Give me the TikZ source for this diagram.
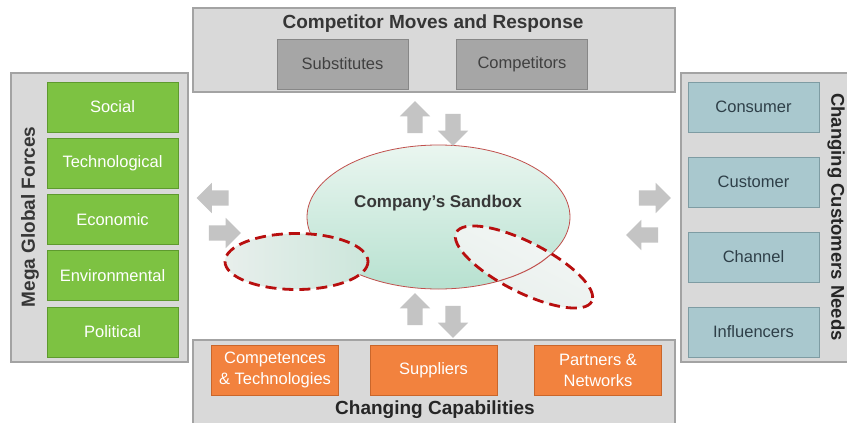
\documentclass[tikz,border=0pt]{standalone}
\usepackage{fontspec}
\setmainfont{Liberation Sans}
\usetikzlibrary{shapes.arrows}

\definecolor{panelfill}{HTML}{D9D9D9}
\definecolor{panelline}{HTML}{A3A3A3}
\definecolor{grayfill}{HTML}{A6A6A6}
\definecolor{grayline}{HTML}{878787}
\definecolor{greenfill}{HTML}{7DC242}
\definecolor{greenline}{HTML}{5E9A2E}
\definecolor{bluefill}{HTML}{A9C8CE}
\definecolor{blueline}{HTML}{7E9CA3}
\definecolor{bluetext}{HTML}{2E3F48}
\definecolor{orangefill}{HTML}{F2823E}
\definecolor{orangeline}{HTML}{C9662B}
\definecolor{titletext}{HTML}{363636}
\definecolor{arrowgray}{HTML}{C4C4C4}
\definecolor{sandtop}{HTML}{EAF6F0}
\definecolor{sandbottom}{HTML}{B7E1D0}
\definecolor{sandline}{HTML}{C0504D}
\definecolor{pocketred}{HTML}{B80F0F}
\definecolor{pocketpale}{HTML}{E8EFEC}
\definecolor{pocketmint}{HTML}{CCE6DB}
\definecolor{pocketdeep}{HTML}{B3D6C6}

\tikzset{
  panel/.style={draw=panelline, fill=panelfill, line width=1.2pt},
  item/.style={draw, line width=1pt, minimum width=131pt, minimum height=50pt,
    inner sep=0pt, align=center, font=\fontsize{16.5}{21}\selectfont},
  grayitem/.style={item, fill=grayfill, draw=grayline, text=black!75},
  greenitem/.style={item, fill=greenfill, draw=greenline, text=white},
  blueitem/.style={item, fill=bluefill, draw=blueline, text=bluetext},
  orangeitem/.style={item, minimum width=127pt, fill=orangefill, draw=orangeline, text=white},
  paneltitle/.style={font=\bfseries\fontsize{19}{22}\selectfont, text=titletext},
  blockarrow/.style={single arrow, fill=arrowgray, minimum height=32pt,
    inner sep=7.5pt, single arrow head extend=7.5pt},
  pocket/.style={draw=pocketred, line width=2.8pt, dash pattern=on 11pt off 6pt}
}

\begin{document}
\begin{tikzpicture}[x=1pt, y=-1pt]
  \path[use as bounding box, fill=white] (0,0) rectangle (847,423);

  % competitor panel
  \draw[panel] (193,8) rectangle (675,92);
  \node[paneltitle] (comptitle) at (433,24) {Competitor Moves and Response};
  \node[grayitem] (subst) at (342.5,64) {Substitutes};
  \node[grayitem] (compet) at (522,64) {Competitors};

  % mega forces panel
  \draw[panel] (11,73) rectangle (188,362);
  \node[paneltitle, rotate=90] (megatitle) at (30,217) {Mega Global Forces};
  \foreach \name [count=\i] in {Social,Technological,Economic,Environmental,Political}
    \node[greenitem] (force\i) at (112.5,{107+(\i-1)*56.25}) {\name};

  % customers panel
  \draw[panel] (681,73) rectangle (880,362);
  \node[paneltitle, rotate=-90, text=black!85, font=\bfseries\fontsize{18.5}{22}\selectfont] (custtitle) at (836,217) {Changing Customers Needs};
  \foreach \name [count=\i] in {Consumer,Customer,Channel,Influencers}
    \node[blueitem] (need\i) at (753.5,{107+(\i-1)*75}) {\name};

  % capabilities panel
  \draw[panel] (193,340) rectangle (675,440);
  \node[paneltitle, text=black!85] (captitle) at (435,410) {Changing Capabilities};
  \node[orangeitem] (compt) at (275,370) {Competences\\\& Technologies};
  \node[orangeitem] (suppl) at (433.5,370) {Suppliers};
  \node[orangeitem] (partn) at (598,370) {Partners \&\\Networks};

  % sandbox
  \shade[top color=sandtop, bottom color=sandbottom] (438.5,217) ellipse [x radius=131.5, y radius=72];
  \draw[sandline, line width=0.8pt] (438.5,217) ellipse [x radius=131.5, y radius=72];
  \node[font=\bfseries\fontsize{17}{20}\selectfont, text=black!78] (sandbox) at (438,203) {Company's Sandbox};

  % pockets
  \shade[left color=pocketpale, middle color=pocketpale, right color=pocketmint]
    (296.5,261.5) ellipse [x radius=71.5, y radius=28];
  \draw[pocket] (296.5,261.5) ellipse [x radius=71.5, y radius=28];
  \shade[left color=pocketpale!50!white, middle color=pocketdeep, right color=pocketpale, shading angle=-27]
    (524,267) ellipse [x radius=76, y radius=25, rotate=-27];
  % sandbox edge seen through the pocket
  \draw[sandline, line width=1pt] plot[smooth] coordinates
    {(498.2,281.2) (513.9,276.0) (528.2,269.7) (540.7,262.3) (551.2,254.1)};
  \draw[pocket] (524,267) ellipse [x radius=76, y radius=25, rotate=-27];

  % exchange arrows
  \node[blockarrow, rotate=90] (topup) at (415,121) {};
  \node[blockarrow, rotate=-90] (topdown) at (453,126) {};
  \node[blockarrow, rotate=90] (botup) at (415,313) {};
  \node[blockarrow, rotate=-90] (botdown) at (453,318) {};
  \node[blockarrow, rotate=180] (leftout) at (216.5,198) {};
  \node[blockarrow] (leftin) at (221,233) {};
  \node[blockarrow] (rightout) at (651,198) {};
  \node[blockarrow, rotate=180] (rightin) at (646,235) {};
\end{tikzpicture}
\end{document}
